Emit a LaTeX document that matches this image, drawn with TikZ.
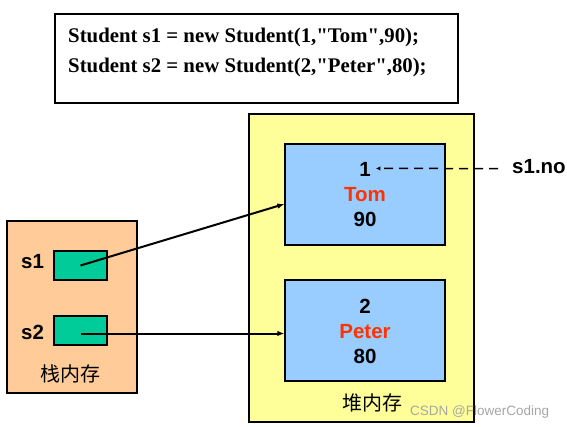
\documentclass[tikz,border=0pt]{standalone}
\usepackage{fontspec}
\setmainfont{Liberation Serif}[Ligatures=TeXOff]
\setsansfont{Liberation Sans}
\newfontfamily\cjk{Noto Sans CJK SC}
\usetikzlibrary{arrows.meta,positioning}
\definecolor{stackfill}{HTML}{FFCC99}
\definecolor{heapfill}{HTML}{FFFF99}
\definecolor{reffill}{HTML}{00CC99}
\definecolor{objfill}{HTML}{99CCFF}
\definecolor{namered}{HTML}{FF3300}

\begin{document}
\begin{tikzpicture}[
  x=1pt, y=-1pt,
  frame/.style={rectangle, draw=black, line width=1.2pt, inner sep=0pt},
  codeline/.style={anchor=base west, inner sep=0pt, font=\fontsize{20.8}{24}\selectfont\bfseries},
  field/.style={anchor=base, inner sep=0pt, font=\fontsize{20.5}{24}\selectfont\sffamily\bfseries},
  memlabel/.style={inner sep=0pt, font=\fontsize{20}{24}\selectfont\cjk},
  arrow/.style={-{Latex[length=7pt,width=5.5pt]}, line width=2pt}
]
\useasboundingbox (0,0) rectangle (567,427);
% code
\node[frame, minimum width=403pt, minimum height=89pt] (code) at (256.5,58.5) {};
\node[codeline] (line1) at (68,43) {Student s1 = new Student(1,"Tom",90);};
\node[codeline] (line2) at (68,73) {Student s2 = new Student(2,"Peter",80);};
% stack
\node[frame, fill=stackfill, minimum width=130pt, minimum height=172pt] (stack) at (72,307) {};
\node[frame, fill=reffill, minimum width=53pt, minimum height=29pt] (g1) at (80.5,265.5) {};
\node[frame, fill=reffill, minimum width=53pt, minimum height=29pt] (g2) at (80.5,330.5) {};
\node[field, anchor=base west] (s1) at (21,268.5) {s1};
\node[field, anchor=base west] (s2) at (21,339.5) {s2};
\node[memlabel] (stacklbl) at (70,374) {栈内存};
% heap
\node[frame, fill=heapfill, minimum width=225pt, minimum height=308pt] (heap) at (361.5,268) {};
\node[frame, fill=objfill, minimum width=160pt, minimum height=101pt] (b1) at (365,194.5) {};
\node[frame, fill=objfill, minimum width=160pt, minimum height=101pt] (b2) at (365,330.5) {};
\node[field] (no1) at (365,176.5) {1};
\node[field, text=namered] (name1) at (365,201.5) {Tom};
\node[field] (score1) at (365,226.5) {90};
\node[field] (no2) at (365,313.5) {2};
\node[field, text=namered] (name2) at (365,338) {Peter};
\node[field] (score2) at (365,363.5) {80};
\node[memlabel] (heaplbl) at (372.5,403) {堆内存};
% access
\node[field, anchor=base west] (acc) at (512,173.5) {s1.no};
\node[inner sep=0pt, anchor=base west, text=black!35, font=\fontsize{13.5}{16}\selectfont\sffamily] (mark) at (410,415) {CSDN @FlowerCoding};
\draw[arrow] (g1.center) -- ([yshift=-9.5pt]b1.west);
\draw[arrow] ([yshift=-3pt]g2.center) -- ([yshift=-3pt]b2.west);
\draw[-{Latex[length=4.5pt,width=4.5pt]}, line width=1.5pt, dash pattern=on 9pt off 6pt] ([xshift=-14pt,yshift=-2pt]acc.west) -- ([xshift=5pt,yshift=1pt]no1.east);
\end{tikzpicture}
\end{document}
